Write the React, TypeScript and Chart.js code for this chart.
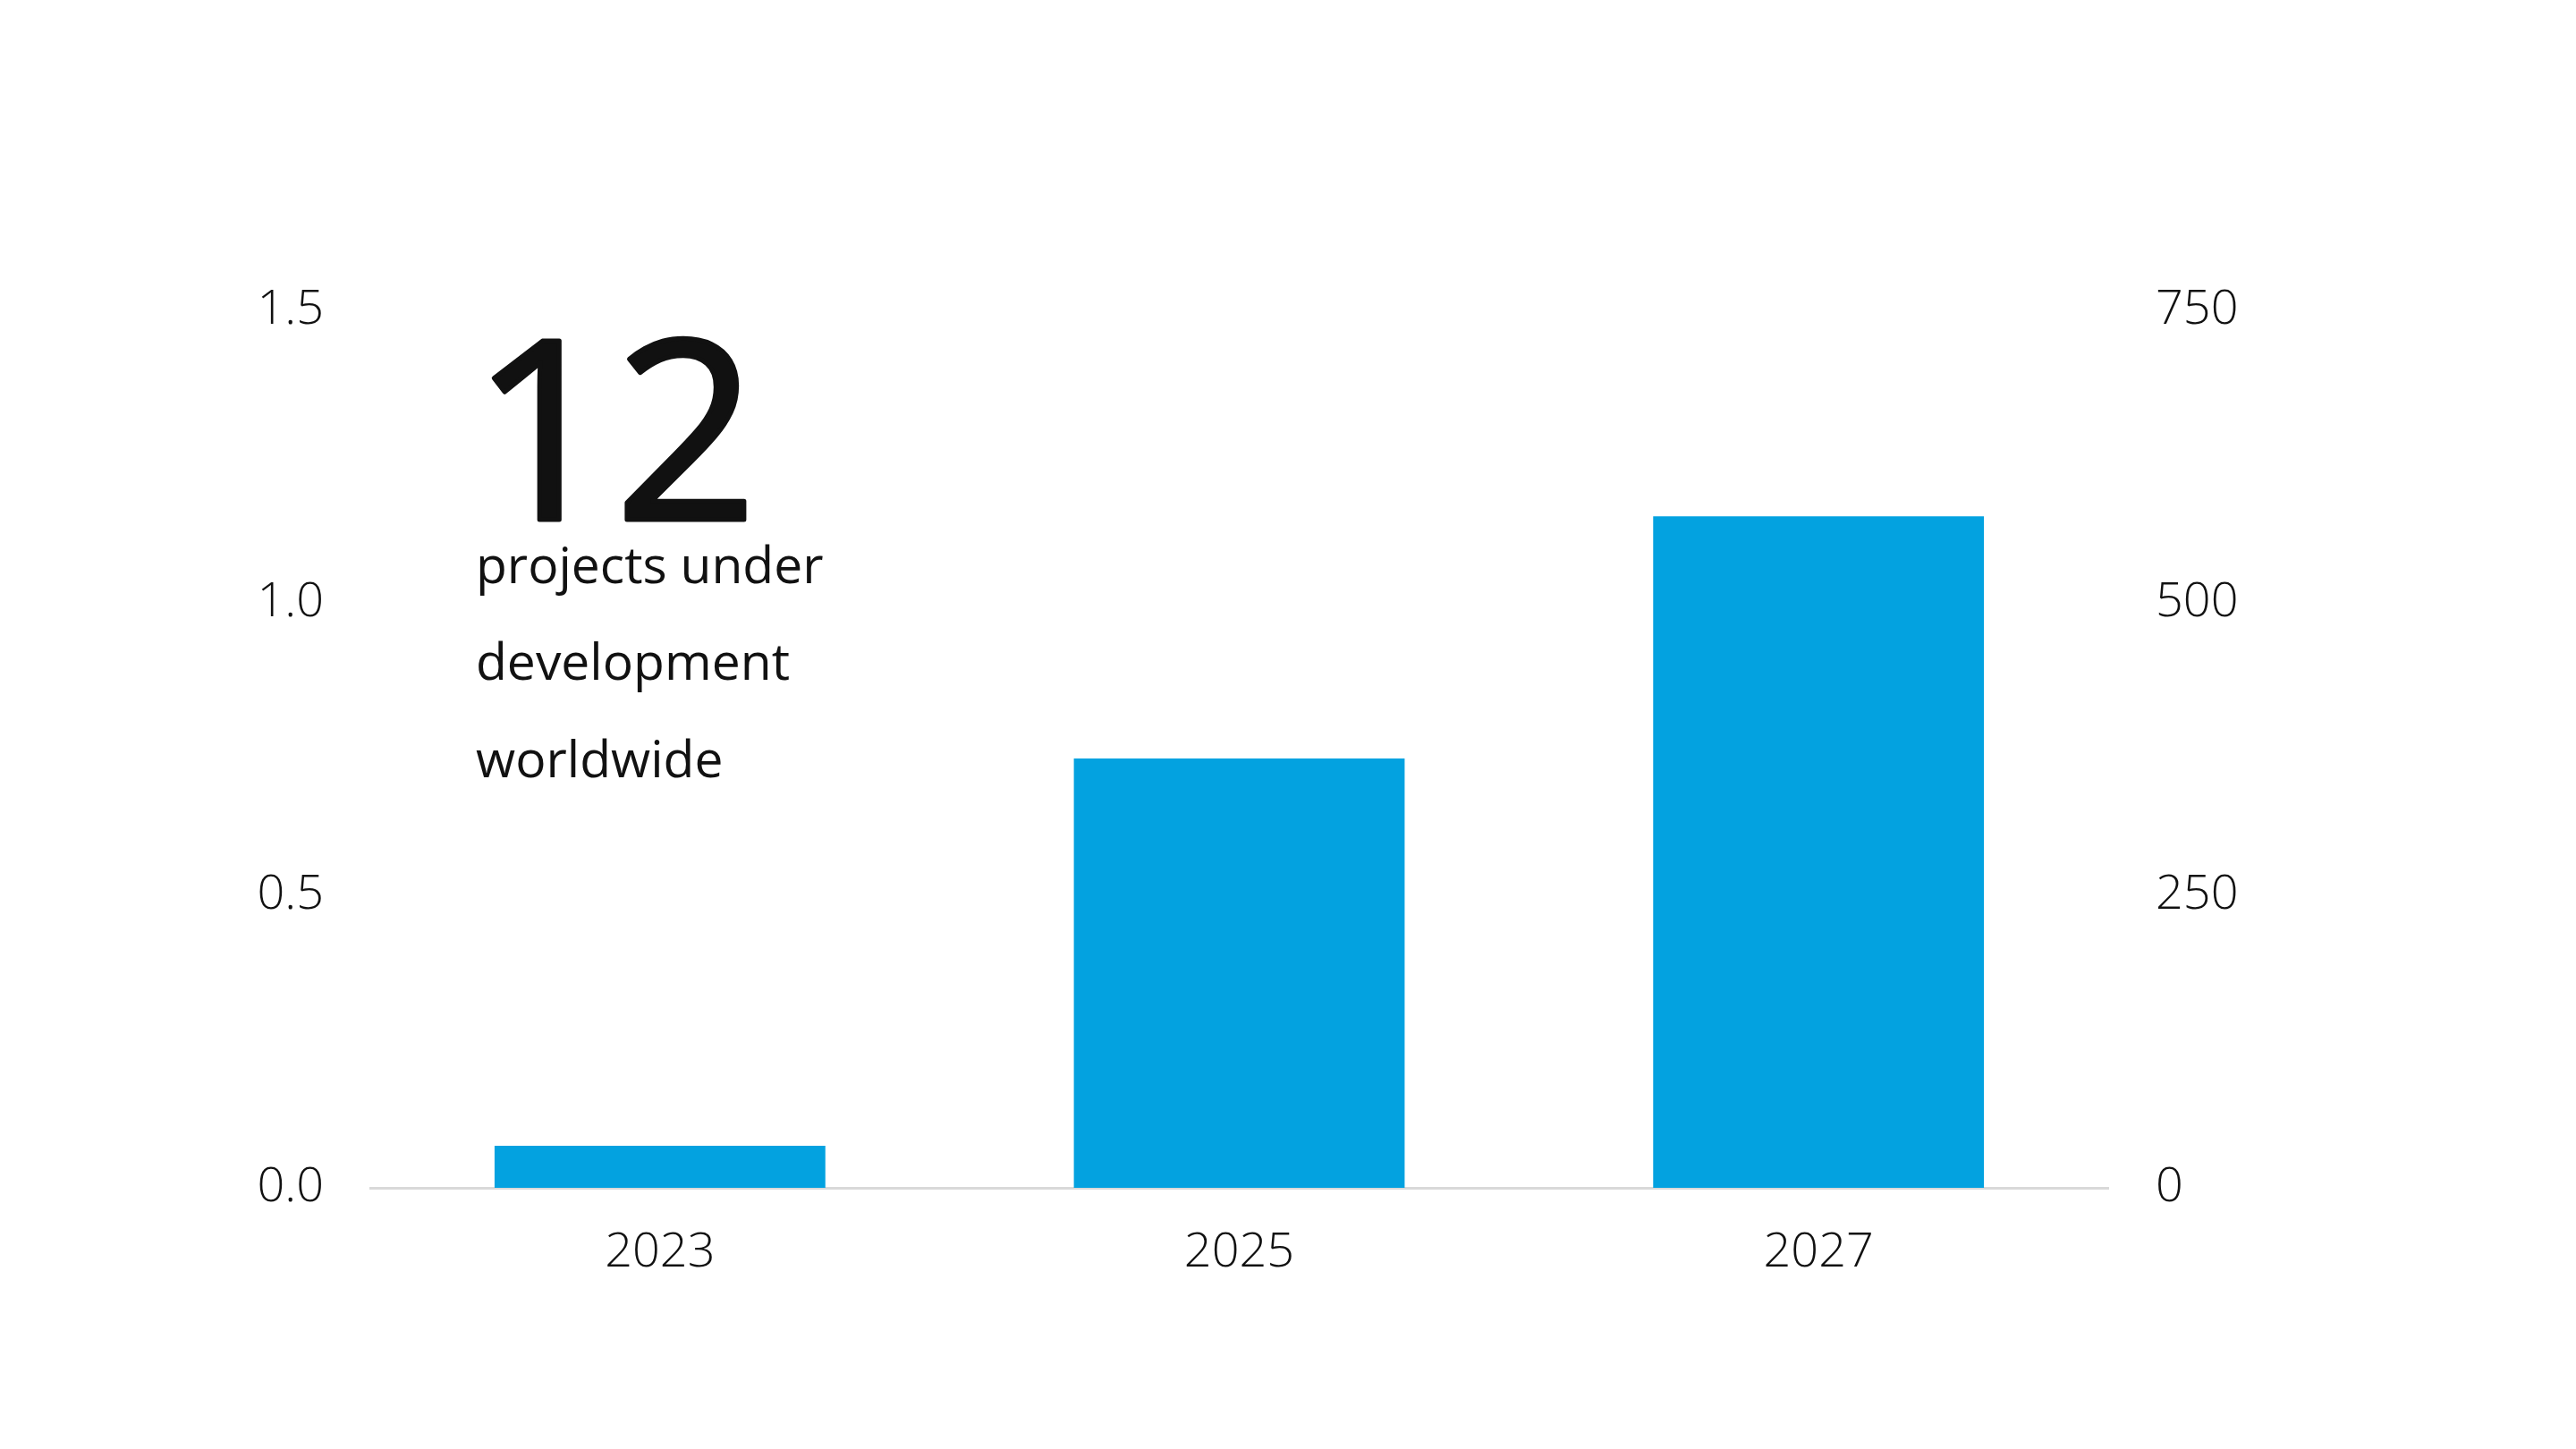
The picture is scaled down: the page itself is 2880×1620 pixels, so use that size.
import { useEffect, useRef } from 'react';
import { Chart, registerables } from 'chart.js';

Chart.register(...registerables);

// ---- data ----
const categories = ['2023', '2025', '2027'];
const capacityValues = [36, 367, 574]; // right axis (0–750)
const leftAxisMax = 1.5;
const leftAxisStep = 0.5;
const rightAxisMax = 750;
const rightAxisStep = 250;
const headline = '12';
const captionLines = ['projects under', 'development', 'worldwide'];

const FONT = '"Open Sans", "Noto Sans", sans-serif';
const TEXT = '#111111';
const BAR = '#03A2E0';

const overlayPlugin = {
  id: 'headlineOverlay',
  afterDraw(chart: any) {
    const { ctx, chartArea } = chart;
    ctx.save();
    ctx.fillStyle = TEXT;
    ctx.strokeStyle = TEXT;
    ctx.textAlign = 'left';
    ctx.textBaseline = 'alphabetic';
    const x = chartArea.left + 118;
    ctx.font = `400 280px ${FONT}`;
    ctx.lineWidth = 5;
    ctx.lineJoin = 'round';
    ctx.fillText(headline, x - 5, chartArea.top + 234);
    ctx.strokeText(headline, x - 5, chartArea.top + 234);
    ctx.font = `400 57px ${FONT}`;
    const baselines = [305, 413, 522];
    captionLines.forEach((line, i) => {
      ctx.fillText(line, x, chartArea.top + baselines[i]);
    });
    ctx.restore();
  },
};

export default function App() {
  const ref = useRef<HTMLCanvasElement>(null);
  useEffect(() => {
    document.body.style.margin = '0';
    const chart = new Chart(ref.current!, {
      type: 'bar',
      data: {
        labels: categories,
        datasets: [
          {
            data: capacityValues,
            backgroundColor: BAR,
            borderWidth: 0,
            yAxisID: 'y1',
            categoryPercentage: 1,
            barPercentage: 0.571,
          },
        ],
      },
      options: {
        animation: false,
        responsive: true,
        maintainAspectRatio: false,
        layout: { padding: { top: 347, left: 0, right: 0, bottom: 0 } },
        plugins: { legend: { display: false }, tooltip: { enabled: false } },
        scales: {
          x: {
            grid: { display: false, drawTicks: false },
            border: { display: true, color: '#d9d9d9', width: 3 },
            ticks: { color: TEXT, font: { family: FONT, size: 54, weight: '300' }, padding: 40 },
            afterFit: (s: any) => { s.height = 292; },
          },
          y: {
            position: 'left',
            min: 0,
            max: leftAxisMax,
            grid: { display: false, drawTicks: false },
            border: { display: false },
            ticks: {
              stepSize: leftAxisStep,
              color: TEXT,
              font: { family: FONT, size: 54, weight: '300' },
              padding: 52,
              callback: (v: any) => Number(v).toFixed(1),
            },
            afterFit: (s: any) => { s.width = 414; },
          },
          y1: {
            position: 'right',
            min: 0,
            max: rightAxisMax,
            grid: { display: false, drawTicks: false },
            border: { display: false },
            ticks: {
              stepSize: rightAxisStep,
              color: TEXT,
              font: { family: FONT, size: 54, weight: '300' },
              padding: 53,
            },
            afterFit: (s: any) => { s.width = 523; },
          },
        },
      },
      plugins: [overlayPlugin],
    });
    return () => chart.destroy();
  }, []);
  return (
    <div style={{ position: 'fixed', left: 0, top: 0, width: '100vw', height: '100vh', background: '#ffffff' }}>
      <canvas ref={ref} />
    </div>
  );
}
